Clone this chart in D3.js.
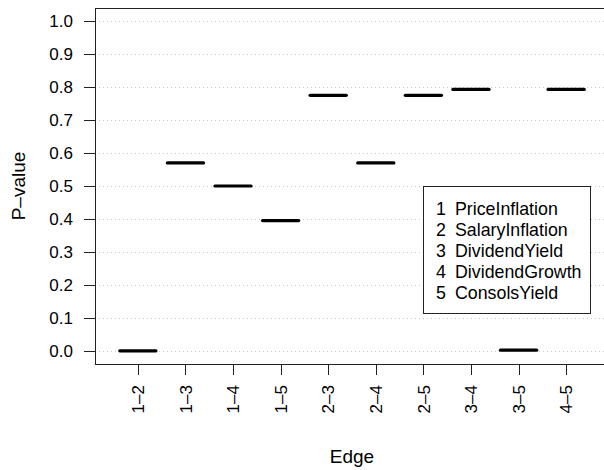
<!DOCTYPE html>
<html>
<head>
<meta charset="utf-8">
<script src="https://cdn.jsdelivr.net/npm/d3@7"></script>
<style>
  html, body { margin: 0; padding: 0; background: #fff; }
  svg { display: block; }
  text { font-family: "Liberation Sans", Arial, Helvetica, sans-serif; fill: #000; }
</style>
</head>
<body>
<svg id="chart" width="604" height="470"></svg>
<script>
// ---- data ----
const edges = ["1–2", "1–3", "1–4", "1–5", "2–3", "2–4", "2–5", "3–4", "3–5", "4–5"];
const pvalues = [0.0, 0.57, 0.5, 0.395, 0.775, 0.57, 0.775, 0.793, 0.002, 0.793];
const yTicks = [0.0, 0.1, 0.2, 0.3, 0.4, 0.5, 0.6, 0.7, 0.8, 0.9, 1.0];
const legendNums = ["1", "2", "3", "4", "5"];
const legendNames = ["PriceInflation", "SalaryInflation", "DividendYield", "DividendGrowth", "ConsolsYield"];

// ---- layout ----
const svg = d3.select("#chart");
const mLeft = 95, mRight = 609, mTop = 8, mBottom = 364;

const x = d3.scaleLinear().domain([0.1, 10.9]).range([mLeft, mRight]);
const y = d3.scaleLinear().domain([-0.04, 1.04]).range([mBottom, mTop]);

// grid
svg.append("g").selectAll("line").data(yTicks).join("line")
  .attr("x1", mLeft).attr("x2", mRight)
  .attr("y1", d => Math.round(y(d)) + 0.5).attr("y2", d => Math.round(y(d)) + 0.5)
  .attr("stroke", "#c8c8c8").attr("stroke-width", 1)
  .attr("stroke-dasharray", "1,3");

// segments
svg.append("g").selectAll("line").data(pvalues).join("line")
  .attr("x1", (d, i) => x(i + 1 - 0.38))
  .attr("x2", (d, i) => x(i + 1 + 0.38))
  .attr("y1", d => y(d)).attr("y2", d => y(d))
  .attr("stroke", "#000").attr("stroke-width", 3.2)
  .attr("stroke-linecap", "round");

// box
svg.append("rect")
  .attr("x", mLeft + 0.5).attr("y", mTop + 0.5)
  .attr("width", mRight - mLeft).attr("height", mBottom - mTop)
  .attr("fill", "none").attr("stroke", "#222").attr("stroke-width", 1);

// y axis ticks & labels
const yAxis = svg.append("g");
yAxis.selectAll("line").data(yTicks).join("line")
  .attr("x1", mLeft - 11).attr("x2", mLeft)
  .attr("y1", d => Math.round(y(d)) + 0.5).attr("y2", d => Math.round(y(d)) + 0.5)
  .attr("stroke", "#222");
yAxis.selectAll("text").data(yTicks).join("text")
  .attr("x", 73).attr("y", d => y(d))
  .attr("dy", "0.36em")
  .attr("text-anchor", "end")
  .attr("font-size", 17)
  .text(d => d3.format(".1f")(d));

// x axis ticks & labels
const xAxis = svg.append("g");
xAxis.selectAll("line").data(edges).join("line")
  .attr("x1", (d, i) => Math.round(x(i + 1)) + 0.5).attr("x2", (d, i) => Math.round(x(i + 1)) + 0.5)
  .attr("y1", mBottom).attr("y2", mBottom + 11)
  .attr("stroke", "#222");
xAxis.selectAll("text").data(edges).join("text")
  .attr("transform", (d, i) => `translate(${x(i + 1)},385) rotate(-90)`)
  .attr("dy", "0.36em")
  .attr("text-anchor", "end")
  .attr("font-size", 17)
  .text(d => d);

// axis titles
svg.append("text")
  .attr("x", (mLeft + mRight) / 2).attr("y", 463)
  .attr("text-anchor", "middle")
  .attr("font-size", 19)
  .text("Edge");
svg.append("text")
  .attr("transform", `translate(25,${(mTop + mBottom) / 2}) rotate(-90)`)
  .attr("text-anchor", "middle")
  .attr("font-size", 19)
  .text("P–value");

// legend
const lg = svg.append("g");
lg.append("rect")
  .attr("x", 423.5).attr("y", 186.5).attr("width", 167).attr("height", 127)
  .attr("fill", "#fff").attr("stroke", "#222");
lg.selectAll("text.num").data(legendNums).join("text")
  .attr("class", "num")
  .attr("x", 436).attr("y", (d, i) => 215 + i * 21)
  .attr("font-size", 17.8)
  .text(d => d);
lg.selectAll("text.name").data(legendNames).join("text")
  .attr("class", "name")
  .attr("x", 455).attr("y", (d, i) => 215 + i * 21)
  .attr("font-size", 17.8)
  .text(d => d);
</script>
</body>
</html>
